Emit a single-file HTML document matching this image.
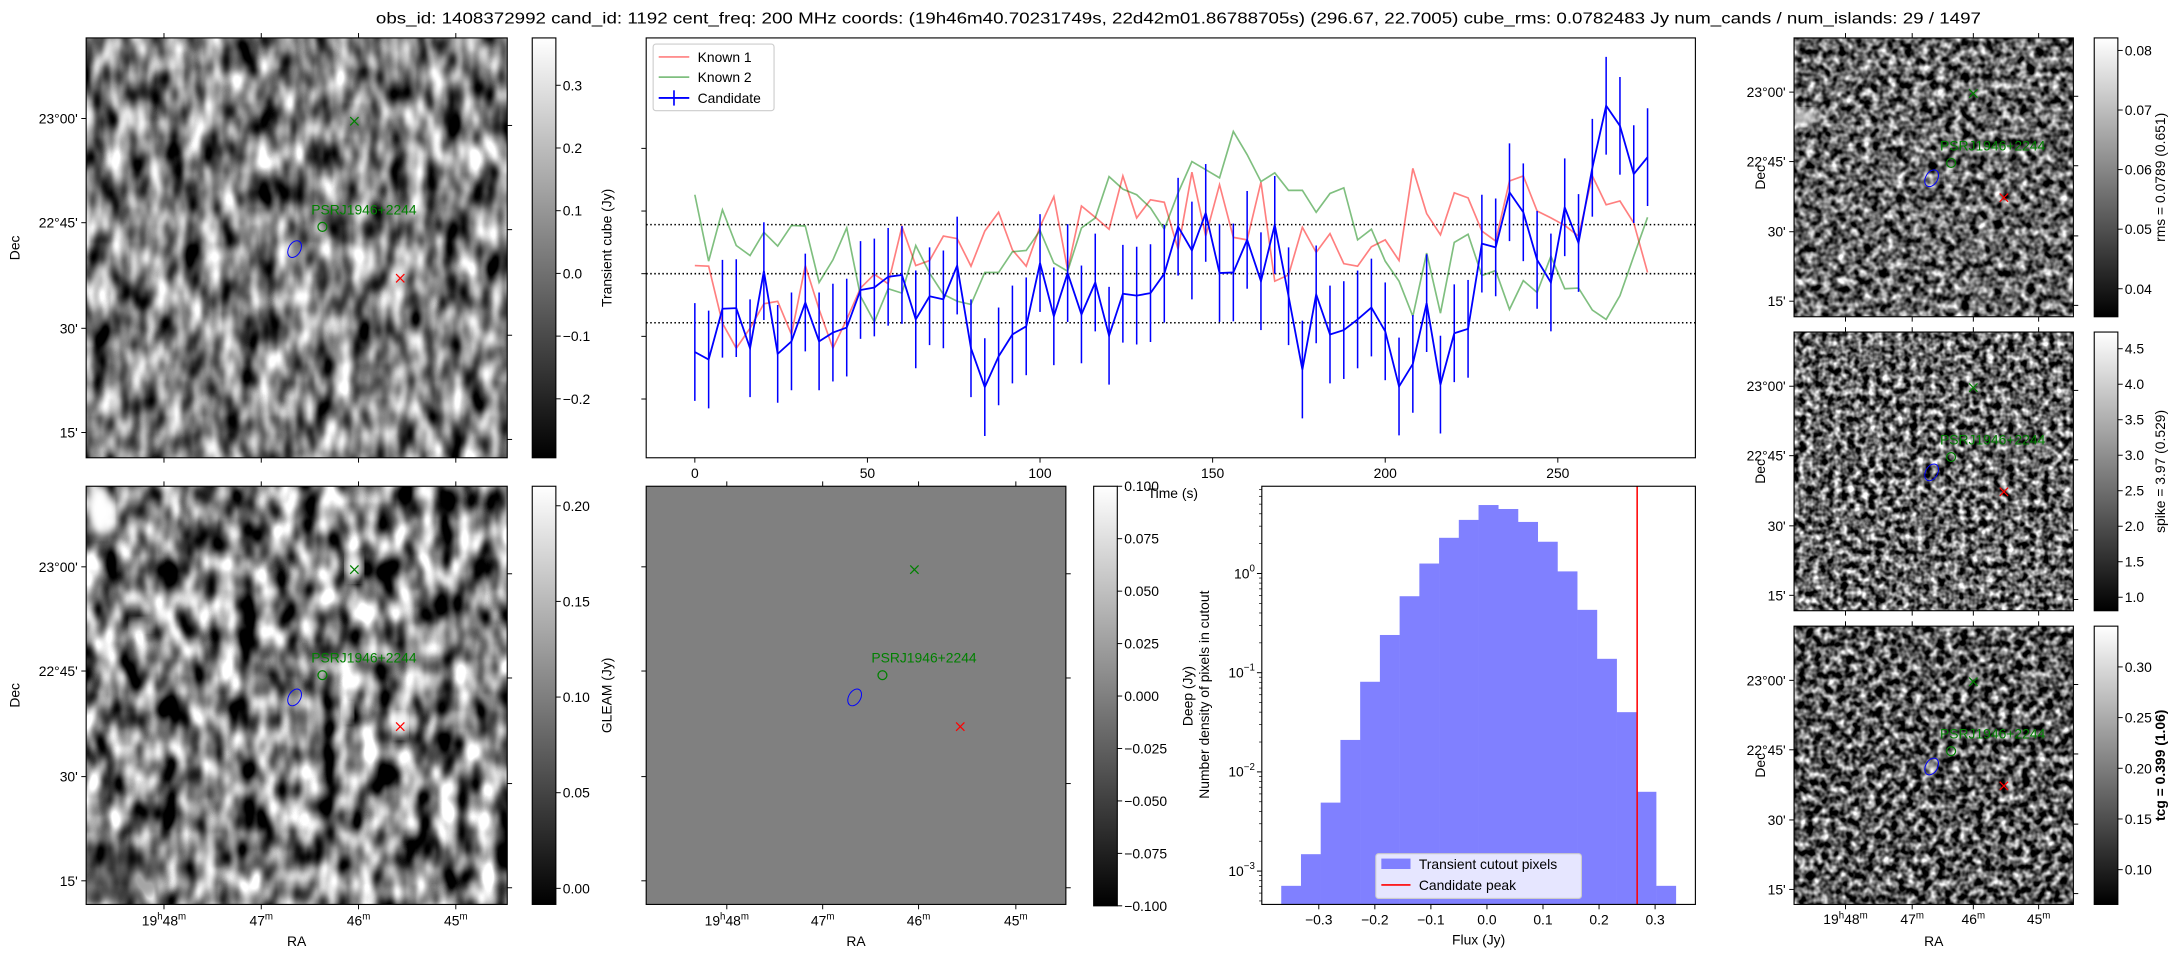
<!DOCTYPE html>
<html><head><meta charset="utf-8"><style>
html,body{margin:0;padding:0;background:#fff;}
svg{display:block;}
text{font-family:"Liberation Sans","DejaVu Sans",sans-serif;fill:#000;}
</style></head><body>
<svg id="fig" width="2179" height="960" viewBox="0 0 1568 691" preserveAspectRatio="none" xmlns="http://www.w3.org/2000/svg">
<defs>
<filter id="nTL" x="0" y="0" width="100%" height="100%" color-interpolation-filters="sRGB">
<feTurbulence type="fractalNoise" baseFrequency="0.075 0.04" numOctaves="2" seed="4"/>
<feColorMatrix type="matrix" values="1 0 0 0 0 1 0 0 0 0 1 0 0 0 0 0 0 0 0 1"/>
<feComponentTransfer><feFuncR type="linear" slope="1.9" intercept="-0.45"/><feFuncG type="linear" slope="1.9" intercept="-0.45"/><feFuncB type="linear" slope="1.9" intercept="-0.45"/><feFuncA type="linear" slope="0" intercept="1"/></feComponentTransfer>
</filter>
<filter id="nBL" x="0" y="0" width="100%" height="100%" color-interpolation-filters="sRGB">
<feTurbulence type="fractalNoise" baseFrequency="0.07 0.04" numOctaves="2" seed="11"/>
<feColorMatrix type="matrix" values="1 0 0 0 0 1 0 0 0 0 1 0 0 0 0 0 0 0 0 1"/>
<feComponentTransfer><feFuncR type="linear" slope="2.2" intercept="-0.6"/><feFuncG type="linear" slope="2.2" intercept="-0.6"/><feFuncB type="linear" slope="2.2" intercept="-0.6"/><feFuncA type="linear" slope="0" intercept="1"/></feComponentTransfer>
</filter>
<filter id="nR1" x="0" y="0" width="100%" height="100%" color-interpolation-filters="sRGB">
<feTurbulence type="fractalNoise" baseFrequency="0.17" numOctaves="2" seed="21"/>
<feColorMatrix type="matrix" values="1 0 0 0 0 1 0 0 0 0 1 0 0 0 0 0 0 0 0 1"/>
<feComponentTransfer><feFuncR type="linear" slope="2.0" intercept="-0.6"/><feFuncG type="linear" slope="2.0" intercept="-0.6"/><feFuncB type="linear" slope="2.0" intercept="-0.6"/><feFuncA type="linear" slope="0" intercept="1"/></feComponentTransfer>
</filter>
<filter id="nR2" x="0" y="0" width="100%" height="100%" color-interpolation-filters="sRGB">
<feTurbulence type="fractalNoise" baseFrequency="0.2" numOctaves="2" seed="33"/>
<feColorMatrix type="matrix" values="1 0 0 0 0 1 0 0 0 0 1 0 0 0 0 0 0 0 0 1"/>
<feComponentTransfer><feFuncR type="linear" slope="2.1" intercept="-0.65"/><feFuncG type="linear" slope="2.1" intercept="-0.65"/><feFuncB type="linear" slope="2.1" intercept="-0.65"/><feFuncA type="linear" slope="0" intercept="1"/></feComponentTransfer>
</filter>
<filter id="nR3" x="0" y="0" width="100%" height="100%" color-interpolation-filters="sRGB">
<feTurbulence type="fractalNoise" baseFrequency="0.18" numOctaves="2" seed="47"/>
<feColorMatrix type="matrix" values="1 0 0 0 0 1 0 0 0 0 1 0 0 0 0 0 0 0 0 1"/>
<feComponentTransfer><feFuncR type="linear" slope="2.1" intercept="-0.7"/><feFuncG type="linear" slope="2.1" intercept="-0.7"/><feFuncB type="linear" slope="2.1" intercept="-0.7"/><feFuncA type="linear" slope="0" intercept="1"/></feComponentTransfer>
</filter>
<filter id="blur3"><feGaussianBlur stdDeviation="3"/></filter>
<linearGradient id="gray" x1="0" y1="1" x2="0" y2="0"><stop offset="0" stop-color="#000"/><stop offset="1" stop-color="#fff"/></linearGradient>
</defs>
<text x="848" y="17" font-size="11.6" text-anchor="middle" textLength="1155" lengthAdjust="spacingAndGlyphs">obs_id: 1408372992 cand_id: 1192 cent_freq: 200 MHz coords: (19h46m40.70231749s, 22d42m01.86788705s) (296.67, 22.7005) cube_rms: 0.0782483 Jy num_cands / num_islands: 29 / 1497</text>
<g id="root"></g>
</svg>
<script>
// ---------- light curve data (t = index*4 s) ----------
const lcTimes = [];
for (let i = 0; i < 70; i++) lcTimes.push(i * 4);
const candidateFlux = [-0.125,-0.137,-0.056,-0.055,-0.119,0.004,-0.128,-0.108,-0.046,-0.108,-0.094,-0.086,-0.026,-0.022,-0.005,-0.002,-0.073,-0.036,-0.041,0.013,-0.119,-0.181,-0.132,-0.097,-0.084,0.017,-0.068,0.001,-0.065,-0.014,-0.099,-0.032,-0.035,-0.031,0.000,0.075,0.037,0.097,0.001,0.002,0.054,-0.012,0.078,-0.036,-0.153,-0.033,-0.097,-0.090,-0.073,-0.054,-0.092,-0.180,-0.144,-0.047,-0.177,-0.095,-0.088,0.048,0.042,0.130,0.098,0.022,-0.014,0.106,0.049,0.169,0.268,0.236,0.159,0.186];
const candidateErr = 0.078;
const known1Flux = [0.013,0.012,-0.079,-0.119,-0.087,-0.048,-0.044,-0.097,0.013,-0.057,-0.119,-0.073,-0.023,-0.001,-0.016,0.075,0.013,0.021,0.060,0.056,0.012,0.068,0.098,0.038,0.012,0.075,0.123,0.006,0.108,0.090,0.071,0.156,0.089,0.118,0.114,0.039,0.162,0.060,0.142,0.058,0.054,0.146,-0.012,-0.002,0.074,0.034,0.064,0.016,0.012,0.043,0.054,0.021,0.168,0.096,0.062,0.129,0.121,0.068,0.052,0.148,0.156,0.100,0.089,0.077,0.060,0.156,0.110,0.116,0.081,0.002];
const known2Flux = [0.126,0.020,0.102,0.045,0.029,0.066,0.044,0.077,0.076,-0.014,0.022,0.073,-0.036,-0.077,-0.024,-0.031,0.045,0.001,-0.033,-0.044,-0.049,0.002,0.002,0.035,0.037,0.069,0.017,0.004,0.073,0.089,0.155,0.135,0.126,0.105,0.071,0.129,0.179,0.166,0.153,0.227,0.19,0.147,0.161,0.133,0.133,0.098,0.128,0.137,0.054,0.071,0.020,-0.012,-0.068,0.033,-0.063,0.050,0.063,-0.003,0.005,-0.057,-0.011,-0.030,0.028,-0.024,-0.023,-0.058,-0.073,-0.035,0.028,0.090];
const rmsLines = [0.0782483, 0, -0.0782483];
const lcXTicks = [0, 50, 100, 150, 200, 250];
const lcYTicks = [0.2, 0.1, 0.0, -0.1, -0.2];
// ---------- histogram data ----------
const histStart = -0.367;
const histWidth = 0.0352;
const histDensity = [0.00071,0.00148,0.0049,0.021,0.081,0.24,0.59,1.26,2.29,3.47,4.9,4.47,3.31,2.09,1.05,0.43,0.138,0.040,0.0063,0.00071];
const candidatePeak = 0.268;
const histXTicks = [-0.3,-0.2,-0.1,0.0,0.1,0.2,0.3];
const histXTickLabels = ["\u22120.3","\u22120.2","\u22120.1","0.0","0.1","0.2","0.3"];
const histYDecades = [0, -1, -2, -3];
// ---------- colorbar ticks ----------
const cb1Ticks = [0.3,0.2,0.1,0.0,-0.1,-0.2];
const cb2Ticks = [0.20,0.15,0.10,0.05,0.00];
const cb3Ticks = [0.100,0.075,0.050,0.025,0.000,-0.025,-0.050,-0.075,-0.100];
const cbR1Ticks = [0.08,0.07,0.06,0.05,0.04];
const cbR2Ticks = [4.5,4.0,3.5,3.0,2.5,2.0,1.5,1.0];
const cbR3Ticks = [0.30,0.25,0.20,0.15,0.10];
const decLabels = ["23\u00b000'","22\u00b045'","30'","15'"];
const raLabelsBig = ["48","47","46","45"];

const NS = "http://www.w3.org/2000/svg";
const root = document.getElementById('root');
function mk(parent, tag, attrs, name, inter) {
  const el = document.createElementNS(NS, tag);
  for (const k in attrs) el.setAttribute(k, attrs[k]);
  
  
  parent.appendChild(el);
  return el;
}
function txt(parent, x, y, s, size, anchor, name, extra) {
  const a = {x: x, y: y, 'font-size': size, 'text-anchor': anchor || 'start'};
  if (extra) for (const k in extra) a[k] = extra[k];
  const t = mk(parent, 'text', a, name, false);
  t.textContent = s;
  return t;
}
function lin(d0, d1, r0, r1) { return v => r0 + (v - d0) / (d1 - d0) * (r1 - r0); }
const FS = 10;
function fmtMinus(v, d) { const s = v.toFixed(d); return s.startsWith('-') ? '\u2212' + s.slice(1) : s; }

function colorbar(x, y0, y1, vTop, vBot, ticks, dec, label, labelBold, name) {
  const g = mk(root, 'g', {}, name, false);
  mk(g, 'rect', {x: x, y: y0, width: 17, height: y1 - y0, fill: 'url(#gray)', stroke: '#000', 'stroke-width': 0.8}, name + '-gradient', false);
  const sy = lin(vTop, vBot, y0, y1);
  ticks.forEach(v => {
    const yy = sy(v);
    mk(g, 'line', {x1: x + 17, x2: x + 20.5, y1: yy, y2: yy, stroke: '#000', 'stroke-width': 0.7}, name + '-tick', false);
    txt(g, x + 22, yy + 3.6, fmtMinus(v, dec), FS, 'start', name + '-tick-label');
  });
  if (label) {
    const t = txt(g, 0, 0, label[0], FS, 'middle', name + '-label', {transform: 'translate(' + label[1] + ',' + ((y0 + y1) / 2) + ') rotate(-90)'});
    if (labelBold) t.setAttribute('font-weight', 'bold');
  }
  return g;
}

function imagePanel(x, y, w, h, filt, base, name, opts) {
  const g = mk(root, 'g', {}, name, false);
  const clipId = 'clip-' + name;
  const cp = mk(g, 'clipPath', {id: clipId}, name + '-clip', false);
  mk(cp, 'rect', {x: x, y: y, width: w, height: h}, name + '-clip-rect', false);
  const ig = mk(g, 'g', {'clip-path': 'url(#' + clipId + ')'}, name + '-pixels', false);
  if (filt) {
    mk(ig, 'rect', {x: x, y: y, width: w, height: h, fill: '#000', filter: 'url(#' + filt + ')'}, name + '-noise', false);
  } else {
    mk(ig, 'rect', {x: x, y: y, width: w, height: h, fill: base}, name + '-fill', false);
  }
  (opts.spots || []).forEach(s => {
    mk(ig, 'ellipse', {cx: x + s[0], cy: y + s[1], rx: s[2], ry: s[3], fill: s[4] || '#fff', filter: 'url(#blur3)', opacity: s[5] || 1}, name + '-bright-spot', false);
  });
  mk(g, 'rect', {x: x, y: y, width: w, height: h, fill: 'none', stroke: '#000', 'stroke-width': 0.8}, name + '-frame', false);
  opts.decY.forEach((dy, i) => {
    mk(g, 'line', {x1: x - 3.5, x2: x, y1: y + dy, y2: y + dy, stroke: '#000', 'stroke-width': 0.7}, name + '-dec-tick', false);
    mk(g, 'line', {x1: x + w, x2: x + w + 3.5, y1: y + dy + opts.rOff, y2: y + dy + opts.rOff, stroke: '#000', 'stroke-width': 0.7}, name + '-right-tick', false);
    if (opts.showDec) txt(g, x - 6, y + dy + 3.6, decLabels[i], FS, 'end', name + '-dec-label');
  });
  opts.raX.forEach((rx, i) => {
    mk(g, 'line', {x1: x + rx, x2: x + rx, y1: y + h, y2: y + h + 3.5, stroke: '#000', 'stroke-width': 0.7}, name + '-ra-tick', false);
    mk(g, 'line', {x1: x + rx + opts.tOff, x2: x + rx + opts.tOff, y1: y - 3.5, y2: y, stroke: '#000', 'stroke-width': 0.7}, name + '-top-tick', false);
    if (opts.showRA) {
      const t = mk(g, 'text', {x: x + rx, y: y + h + 15, 'font-size': FS, 'text-anchor': 'middle'}, name + '-ra-label', false);
      t.innerHTML = (i === 0 ? '19<tspan font-size="7" dy="-4">h</tspan><tspan dy="4">48</tspan>' : raLabelsBig[i]) + '<tspan font-size="7" dy="-4">m</tspan>';
    }
  });
  if (opts.showDec) txt(g, 0, 0, 'Dec', FS, 'middle', name + '-dec-title', {transform: 'translate(' + (opts.decTitleX) + ',' + (y + h / 2) + ') rotate(-90)'});
  if (opts.showRA) txt(g, x + w / 2, y + h + 30, 'RA', FS, 'middle', name + '-ra-title');
  const m = opts.mk;
  const gx = x + m.gx[0], gy = y + m.gx[1];
  mk(g, 'path', {d: 'M' + (gx - 3) + ' ' + (gy - 3) + 'L' + (gx + 3) + ' ' + (gy + 3) + 'M' + (gx - 3) + ' ' + (gy + 3) + 'L' + (gx + 3) + ' ' + (gy - 3), stroke: '#008000', 'stroke-width': 0.9, fill: 'none'}, name + '-known-source-marker', false);
  mk(g, 'circle', {cx: x + m.gc[0], cy: y + m.gc[1], r: 3.2, stroke: '#008000', 'stroke-width': 0.9, fill: 'none'}, name + '-pulsar-marker', false);
  const pt = txt(g, x + m.gc[0] - 8, y + m.gc[1] - 9, 'PSRJ1946+2244', FS, 'start', name + '-pulsar-label');
  pt.setAttribute('fill', '#008000');
  pt.style.fill = '#008000';
  mk(g, 'ellipse', {cx: 0, cy: 0, rx: 4.3, ry: 6.5, stroke: '#0000ff', 'stroke-width': 0.7, fill: 'none', transform: 'translate(' + (x + m.be[0]) + ',' + (y + m.be[1]) + ') rotate(30)'}, name + '-candidate-contour', false);
  const rx_ = x + m.rx[0], ry_ = y + m.rx[1];
  mk(g, 'path', {d: 'M' + (rx_ - 3) + ' ' + (ry_ - 3) + 'L' + (rx_ + 3) + ' ' + (ry_ + 3) + 'M' + (rx_ - 3) + ' ' + (ry_ + 3) + 'L' + (rx_ + 3) + ' ' + (ry_ - 3), stroke: '#ff0000', 'stroke-width': 0.9, fill: 'none'}, name + '-candidate-marker', false);
  return g;
}
const bigMk = {gx: [193, 60], gc: [170, 136], be: [150, 152], rx: [226, 173]};
const bigOpts = (showDec, showRA, spots) => ({decY: [58, 133, 209, 284], rOff: 5, raX: [56, 126, 196, 266], tOff: 0, showDec: showDec, showRA: showRA, decTitleX: 14, mk: bigMk, spots: spots || []});

imagePanel(62, 27.3, 303, 302.2, 'nTL', null, 'transient-image', bigOpts(true, false));
colorbar(383, 27.3, 329.5, 0.3755, -0.294, cb1Ticks, 1, ['Transient cube (Jy)', 440], false, 'transient-colorbar');
imagePanel(62, 350, 303, 301, 'nBL', null, 'gleam-image', bigOpts(true, true, [[10, 18, 9, 18], [193, 58, 6, 10], [226, 172, 5, 9], [188, 163, 4, 7, '#fff', 0.8], [40, 100, 8, 5, '#ddd', 0.5], [20, 280, 40, 20, '#000', 0.35]]));
colorbar(383, 350, 651, 0.2102, -0.0084, cb2Ticks, 2, ['GLEAM (Jy)', 440], false, 'gleam-colorbar');
imagePanel(465, 350, 302, 301, null, '#808080', 'deep-image', {decY: [58, 133, 209, 284], rOff: 5, raX: [58, 127, 196, 266], tOff: 0, showDec: false, showRA: true, decTitleX: 0, mk: bigMk});
colorbar(787, 350, 652, 0.1, -0.1, cb3Ticks, 3, ['Deep (Jy)', 858], false, 'deep-colorbar');

const smMk = {gx: [129, 40], gc: [113, 90], be: [99, 101], rx: [151, 115]};
const smOpts = (spots) => ({decY: [39, 89, 139.5, 189.5], rOff: 3, raX: [37, 85, 129, 176], tOff: 0, showDec: true, showRA: false, decTitleX: 1270, mk: smMk, spots: spots || []});
imagePanel(1291, 27.3, 201, 200.7, 'nR1', null, 'rms-image', smOpts([[6, 57, 12, 6, '#eee', 0.8], [113, 101, 4, 3, '#fff', 0.7]]));
colorbar(1507, 27.3, 228, 0.0821, 0.0353, cbR1Ticks, 2, ['rms = 0.0789 (0.651)', 1558], false, 'rms-colorbar');
imagePanel(1291, 239, 201, 200.6, 'nR2', null, 'spike-image', smOpts());
colorbar(1507, 239, 439.6, 4.735, 0.81, cbR2Ticks, 1, ['spike = 3.97 (0.529)', 1558], false, 'spike-colorbar');
imagePanel(1291, 450.7, 201, 200.3, 'nR3', null, 'tcg-image', smOpts([[99, 101, 3, 4, '#fff', 1]]));
colorbar(1507, 450.7, 651, 0.3402, 0.0657, cbR3Ticks, 2, ['tcg = 0.399 (1.06)', 1558], true, 'tcg-colorbar');
(function () {
  const xs = [1328, 1376, 1420, 1467];
  xs.forEach((x, i) => {
    const t = mk(root, 'text', {x: x, y: 665, 'font-size': FS, 'text-anchor': 'middle'}, 'tcg-ra-label', false);
    t.innerHTML = (i === 0 ? '19<tspan font-size="7" dy="-4">h</tspan><tspan dy="4">48</tspan>' : raLabelsBig[i]) + '<tspan font-size="7" dy="-4">m</tspan>';
  });
  txt(root, 1391.5, 681, 'RA', FS, 'middle', 'tcg-ra-title');
})();

// ---------- Light curve ----------
(function () {
  const L = 465, R = 1220, T = 27.3, B = 329.5;
  const sx = lin(0, 250, 500, 1121);
  const sy = lin(0, 0.1, 197, 151.9);
  const g = mk(root, 'g', {}, 'light-curve', false);
  const cp = mk(g, 'clipPath', {id: 'lcclip'}, 'light-curve-clip', false);
  mk(cp, 'rect', {x: L, y: T, width: R - L, height: B - T}, 'light-curve-clip-rect', false);
  const pg = mk(g, 'g', {'clip-path': 'url(#lcclip)'}, 'light-curve-plot-area', false);
  rmsLines.forEach(v => {
    mk(pg, 'line', {x1: L, x2: R, y1: sy(v), y2: sy(v), stroke: '#000', 'stroke-width': 1.1, 'stroke-dasharray': '1.1 1.8'}, 'rms-reference-line', false);
  });
  const poly = (arr) => arr.map((v, i) => sx(lcTimes[i]).toFixed(2) + ',' + sy(v).toFixed(2)).join(' ');
  mk(pg, 'polyline', {points: poly(known1Flux), fill: 'none', stroke: '#ff0000', 'stroke-opacity': 0.5, 'stroke-width': 1.2}, 'known-1-line', false);
  mk(pg, 'polyline', {points: poly(known2Flux), fill: 'none', stroke: '#008000', 'stroke-opacity': 0.5, 'stroke-width': 1.2}, 'known-2-line', false);
  candidateFlux.forEach((v, i) => {
    mk(pg, 'line', {x1: sx(lcTimes[i]), x2: sx(lcTimes[i]), y1: sy(v + candidateErr), y2: sy(v - candidateErr), stroke: '#0000ff', 'stroke-width': 1.1}, 'candidate-error-bar', false);
  });
  mk(pg, 'polyline', {points: poly(candidateFlux), fill: 'none', stroke: '#0000ff', 'stroke-width': 1.3}, 'candidate-line', false);
  mk(g, 'rect', {x: L, y: T, width: R - L, height: B - T, fill: 'none', stroke: '#000', 'stroke-width': 0.8}, 'light-curve-frame', false);
  lcXTicks.forEach(v => {
    mk(g, 'line', {x1: sx(v), x2: sx(v), y1: B, y2: B + 3.5, stroke: '#000', 'stroke-width': 0.7}, 'time-tick', false);
    txt(g, sx(v), B + 14.5, String(v), FS, 'middle', 'time-tick-label');
  });
  lcYTicks.forEach(v => {
    mk(g, 'line', {x1: L - 3.5, x2: L, y1: sy(v), y2: sy(v), stroke: '#000', 'stroke-width': 0.7}, 'flux-tick', false);
  });
  txt(g, 844, 358.5, 'Time (s)', FS, 'middle', 'time-axis-title');
  const lg = mk(g, 'g', {}, 'light-curve-legend', false);
  mk(lg, 'rect', {x: 470, y: 31.7, width: 87, height: 48, rx: 2, fill: '#fff', 'fill-opacity': 0.8, stroke: '#ccc', 'stroke-width': 0.8}, 'legend-box', false);
  mk(lg, 'line', {x1: 474, x2: 496, y1: 41, y2: 41, stroke: '#ff0000', 'stroke-opacity': 0.5, 'stroke-width': 1.2}, 'legend-known-1-swatch', false);
  txt(lg, 502, 44.5, 'Known 1', FS, 'start', 'legend-known-1');
  mk(lg, 'line', {x1: 474, x2: 496, y1: 55.5, y2: 55.5, stroke: '#008000', 'stroke-opacity': 0.5, 'stroke-width': 1.2}, 'legend-known-2-swatch', false);
  txt(lg, 502, 59, 'Known 2', FS, 'start', 'legend-known-2');
  mk(lg, 'line', {x1: 474, x2: 496, y1: 70.5, y2: 70.5, stroke: '#0000ff', 'stroke-width': 1.3}, 'legend-candidate-swatch', false);
  mk(lg, 'line', {x1: 485, x2: 485, y1: 65, y2: 76, stroke: '#0000ff', 'stroke-width': 1.2}, 'legend-candidate-errbar', false);
  txt(lg, 502, 74, 'Candidate', FS, 'start', 'legend-candidate');
})();

// ---------- Histogram ----------
(function () {
  const L = 908, R = 1220, T = 350, B = 651;
  const sx = lin(0, 0.3, 1070, 1191);
  const sy = v => 412.8 - Math.log10(v) * 71.4;
  const g = mk(root, 'g', {}, 'histogram', false);
  histDensity.forEach((d, i) => {
    const x0 = sx(histStart + i * histWidth), x1 = sx(histStart + (i + 1) * histWidth);
    mk(g, 'rect', {x: x0, y: sy(d), width: x1 - x0 + 0.2, height: B - sy(d), fill: '#8080ff'}, 'histogram-bar', false);
  });
  mk(g, 'line', {x1: sx(candidatePeak), x2: sx(candidatePeak), y1: T, y2: B, stroke: '#ff0000', 'stroke-width': 1.1}, 'candidate-peak-line', false);
  mk(g, 'rect', {x: L, y: T, width: R - L, height: B - T, fill: 'none', stroke: '#000', 'stroke-width': 0.8}, 'histogram-frame', false);
  histXTicks.forEach((v, i) => {
    mk(g, 'line', {x1: sx(v), x2: sx(v), y1: B, y2: B + 3.5, stroke: '#000', 'stroke-width': 0.7}, 'flux-tick', false);
    txt(g, sx(v), B + 14.5, histXTickLabels[i], FS, 'middle', 'flux-tick-label');
  });
  histYDecades.forEach(e => {
    const y = sy(Math.pow(10, e));
    mk(g, 'line', {x1: L - 3.5, x2: L, y1: y, y2: y, stroke: '#000', 'stroke-width': 0.7}, 'density-tick', false);
    const t = mk(g, 'text', {x: L - 5, y: y + 3.5, 'font-size': FS, 'text-anchor': 'end'}, 'density-tick-label', false);
    t.innerHTML = '10<tspan font-size="7" dy="-5">' + (e === 0 ? '0' : '\u2212' + (-e)) + '</tspan>';
    for (let k = 2; k < 10; k++) {
      const yy = sy(k * Math.pow(10, e));
      if (yy > T && yy < B) mk(g, 'line', {x1: L - 2, x2: L, y1: yy, y2: yy, stroke: '#000', 'stroke-width': 0.5}, 'density-minor-tick', false);
    }
  });
  for (let k = 2; k < 10; k++) {
    const yy = sy(k * 0.0001);
    if (yy > T && yy < B) mk(g, 'line', {x1: L - 2, x2: L, y1: yy, y2: yy, stroke: '#000', 'stroke-width': 0.5}, 'density-minor-tick', false);
  }
  txt(g, 1064, 680, 'Flux (Jy)', FS, 'middle', 'flux-axis-title');
  txt(g, 0, 0, 'Number density of pixels in cutout', FS, 'middle', 'density-axis-title', {transform: 'translate(870,500) rotate(-90)'});
  const lg = mk(g, 'g', {}, 'histogram-legend', false);
  mk(lg, 'rect', {x: 990, y: 614.5, width: 148, height: 32.2, rx: 2, fill: '#fff', 'fill-opacity': 0.8, stroke: '#ccc', 'stroke-width': 0.8}, 'legend-box', false);
  mk(lg, 'rect', {x: 994, y: 618, width: 21, height: 7.5, fill: '#8080ff'}, 'legend-pixels-swatch', false);
  txt(lg, 1021, 625.5, 'Transient cutout pixels', FS, 'start', 'legend-pixels');
  mk(lg, 'line', {x1: 994, x2: 1015, y1: 637, y2: 637, stroke: '#ff0000', 'stroke-width': 1.2}, 'legend-peak-swatch', false);
  txt(lg, 1021, 640.5, 'Candidate peak', FS, 'start', 'legend-peak');
})();
</script>
</body></html>
